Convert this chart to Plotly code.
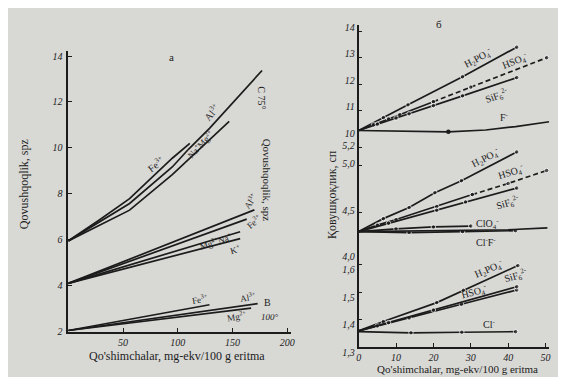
import plotly.graph_objects as go

W, H = 566, 377
INK = "#1c1c1c"
BG = "#d8d8d5"
SERIF = "Liberation Serif"

# ---------------- Panel a (left) ----------------
a_xticks = [50, 100, 150, 200]
a_yticks = [2, 4, 6, 8, 10, 12, 14]

# C, 75 deg
c_fe_x = [0, 28, 56, 95, 111]
c_fe_y = [5.95, 6.85, 7.79, 9.55, 10.2]
c_al_x = [0, 56, 95, 110, 129, 153, 177]
c_al_y = [5.95, 7.58, 9.17, 9.95, 10.85, 12.1, 13.37]
c_namg_x = [0, 56, 95, 116, 147]
c_namg_y = [5.95, 7.29, 8.84, 9.76, 11.15]
# A, 20 deg (middle group)
m_al_x = [0, 170]
m_al_y = [4.1, 7.3]
m_fe_x = [0, 163]
m_fe_y = [4.1, 6.9]
m_mgna_x = [0, 157]
m_mgna_y = [4.1, 6.35]
m_k_x = [0, 157]
m_k_y = [4.1, 6.05]
# B, 100 deg
b_fe_x = [0, 129]
b_fe_y = [2.05, 3.17]
b_al_x = [0, 173]
b_al_y = [2.05, 3.22]
b_mg_x = [0, 167]
b_mg_y = [2.05, 3.02]

# ---------------- Panel b (right) ----------------
r_xticks = [0, 10, 20, 30, 40, 50]
top_ticks = [10, 11, 12, 13, 14]
mid_ticks = [4.0, 4.5, 5.0, 5.2]
mid_ticktext = ["4,0", "4,5", "5,0", "5,2"]
bot_ticks = [1.3, 1.4, 1.5, 1.6]
bot_ticktext = ["1,3", "1,4", "1,5", "1,6"]

# B, 20 deg (top)
t_h2po4_x = [0, 6.6, 13.2, 27.8, 42.3]
t_h2po4_y = [10.25, 10.74, 11.22, 12.28, 13.4]
t_hso4_x = [0, 4, 8, 11, 20, 30, 50.3]
t_hso4_y = [10.25, 10.47, 10.69, 10.85, 11.34, 11.89, 13.0]
t_sif6_x = [0, 5, 10, 13.5, 20, 27.8, 42.3]
t_sif6_y = [10.25, 10.49, 10.72, 10.88, 11.19, 11.56, 12.25]
t_f_x = [0, 12, 24, 34, 42, 51]
t_f_y = [10.25, 10.22, 10.2, 10.27, 10.4, 10.58]
# A, 20 deg (middle)
m2_h2po4_x = [0, 6.6, 13.5, 20.4, 27.5, 42.3]
m2_h2po4_y = [4.29, 4.43, 4.55, 4.71, 4.84, 5.15]
m2_hso4_x = [0, 5, 10, 20.9, 30.4, 40, 50.3]
m2_hso4_y = [4.29, 4.36, 4.42, 4.56, 4.69, 4.81, 4.95]
m2_sif6_x = [0, 8, 20.9, 28.6, 42.3]
m2_sif6_y = [4.29, 4.38, 4.52, 4.61, 4.76]
m2_clo4_x = [0, 10, 20, 30]
m2_clo4_y = [4.29, 4.32, 4.34, 4.35]
m2_cl_x = [0, 13.5, 27.8, 42]
m2_cl_y = [4.29, 4.28, 4.29, 4.3]
m2_f_x = [0, 20, 40, 50.5]
m2_f_y = [4.29, 4.3, 4.31, 4.33]
# A, 75 deg (bottom)
b2_h2po4_x = [0, 6.6, 20.9, 28, 42.6]
b2_h2po4_y = [1.359, 1.393, 1.462, 1.507, 1.597]
b2_hso4_x = [0, 5, 13.5, 27.5, 42.3]
b2_hso4_y = [1.359, 1.377, 1.406, 1.456, 1.508]
b2_sif6_x = [0, 8, 20, 42.3]
b2_sif6_y = [1.359, 1.389, 1.435, 1.52]
b2_cl_x = [0, 14, 27.6, 42]
b2_cl_y = [1.356, 1.352, 1.354, 1.356]


def px(x):
    return x / W


def py(y):
    return 1 - y / H


fig = go.Figure()


def line(xs, ys, xa="x", ya="y", dash="solid", markers=False, width=1.7):
    sizes = [0 if v == 0 else 4.5 for v in xs]
    fig.add_trace(go.Scatter(
        x=xs, y=ys, xaxis=xa, yaxis=ya,
        mode="lines+markers" if markers else "lines",
        line=dict(color=INK, width=width, dash=dash),
        marker=dict(size=sizes, color=INK),
        showlegend=False, hoverinfo="skip"))


# left panel lines
for xs, ys in [(c_fe_x, c_fe_y), (c_al_x, c_al_y), (c_namg_x, c_namg_y),
               (m_al_x, m_al_y), (m_fe_x, m_fe_y), (m_mgna_x, m_mgna_y), (m_k_x, m_k_y),
               (b_fe_x, b_fe_y), (b_al_x, b_al_y), (b_mg_x, b_mg_y)]:
    line(xs, ys)


def split_dash(xs, ys, ya, cut):
    i = xs.index(cut)
    line(xs[:i + 1], ys[:i + 1], "x2", ya, markers=True)
    line(xs[i:], ys[i:], "x2", ya, dash="5px,3px", markers=True)


# right top
line(t_h2po4_x, t_h2po4_y, "x2", "y2", markers=True)
split_dash(t_hso4_x, t_hso4_y, "y2", 20)
line(t_sif6_x, t_sif6_y, "x2", "y2", markers=True)
line(t_f_x, t_f_y, "x2", "y2")
fig.add_trace(go.Scatter(x=[t_f_x[2]], y=[t_f_y[2]], xaxis="x2", yaxis="y2", mode="markers",
                         marker=dict(size=4.5, color=INK), showlegend=False, hoverinfo="skip"))
# right middle
line(m2_h2po4_x, m2_h2po4_y, "x2", "y3", markers=True)
split_dash(m2_hso4_x, m2_hso4_y, "y3", 30.4)
line(m2_sif6_x, m2_sif6_y, "x2", "y3", markers=True)
line(m2_clo4_x, m2_clo4_y, "x2", "y3", markers=True)
line(m2_cl_x, m2_cl_y, "x2", "y3", markers=True)
line(m2_f_x, m2_f_y, "x2", "y3")
# right bottom
line(b2_h2po4_x, b2_h2po4_y, "x2", "y4", markers=True)
line(b2_hso4_x, b2_hso4_y, "x2", "y4", markers=True)
line(b2_sif6_x, b2_sif6_y, "x2", "y4", markers=True)
line(b2_cl_x, b2_cl_y, "x2", "y4", markers=True)

tickfont = dict(family=SERIF, size=10, color=INK, style="italic")
ax_common = dict(showline=True, linecolor=INK, linewidth=1.7, showgrid=False, zeroline=False,
                 ticks="inside", ticklen=4, tickcolor=INK, tickwidth=1.2, tickfont=tickfont,
                 fixedrange=True)

fig.update_layout(
    width=W, height=H, paper_bgcolor=BG, plot_bgcolor="rgba(0,0,0,0)",
    margin=dict(l=0, r=0, t=0, b=0), showlegend=False,
    xaxis=dict(domain=[px(58), px(283)], range=[0, 203], anchor="y",
               tickvals=a_xticks, ticklabelstandoff=1, **ax_common),
    yaxis=dict(domain=[py(333), py(42)], range=[2, 14.2], anchor="x",
               tickvals=a_yticks, ticklabelstandoff=2, **ax_common),
    xaxis2=dict(domain=[px(352), px(545)], range=[0, 51], anchor="y4",
                tickvals=r_xticks, ticklabelstandoff=0, **ax_common),
    yaxis2=dict(domain=[py(131), py(15)], range=[10, 14.22], anchor="x2",
                tickvals=top_ticks, ticklabelshift=-4, **ax_common),
    yaxis3=dict(domain=[py(257), py(131)], range=[4.0, 5.31], anchor="x2",
                tickvals=mid_ticks, ticktext=mid_ticktext, ticklabelshift=-2, **ax_common),
    yaxis4=dict(domain=[py(349), py(257)], range=[1.3, 1.623], anchor="x2",
                tickvals=bot_ticks, ticktext=bot_ticktext, ticklabelshift=5, **ax_common),
)

ann = []


def lab(text, x, y, xref="x", yref="y", angle=0, size=10):
    ann.append(dict(text=text, x=x, y=y, xref=xref, yref=yref, showarrow=False, textangle=angle,
                    font=dict(family=SERIF, size=size, color=INK),
                    xanchor="center", yanchor="middle"))


# left labels
lab("Fe<sup>3+</sup>", 80, 9.3, angle=-37)
lab("Al<sup>3+</sup>", 131, 11.55, angle=-50)
lab("Na<sup>+</sup>Mg<sup>2+</sup>", 121, 10.15, angle=-47, size=9)
lab("C 75°", 177, 12.2, angle=90, size=10)
lab("Al<sup>3+</sup>", 166, 7.7, angle=-55, size=9)
lab("Fe<sup>3+</sup>", 170, 6.8, angle=-40, size=9)
lab("Mg<sup>2+</sup>Na<sup>+</sup>", 135, 5.95, angle=-18, size=9)
lab("K<sup>+</sup>", 153, 5.6, angle=-15, size=9)
lab("Fe<sup>3+</sup>", 120, 3.4, angle=-10, size=9)
lab("Al<sup>3+</sup>", 164, 3.5, angle=-10, size=9)
lab("Mg<sup>2+</sup>", 154, 2.68, angle=-10, size=9)
lab("B", 182, 3.28, size=10)
lab("<i>100°</i>", 184, 2.65, size=9)

# right top labels
lab("H<sub>2</sub>PO<sub>4</sub><sup>-</sup>", 32, 13.0, "x2", "y2", angle=-28)
lab("HSO<sub>4</sub><sup>-</sup>", 42, 12.87, "x2", "y2", angle=-22)
lab("SiF<sub>6</sub><sup>2-</sup>", 37, 11.55, "x2", "y2", angle=-19)
lab("F<sup>-</sup>", 39, 10.75, "x2", "y2")
lab("B", 55, 13.1, "x2", "y2")
lab("20°", 55, 12.55, "x2", "y2", size=9)
# right middle labels
lab("H<sub>2</sub>PO<sub>4</sub><sup>-</sup>", 34, 5.08, "x2", "y3", angle=-27)
lab("HSO<sub>4</sub><sup>-</sup>", 41, 4.93, "x2", "y3", angle=-18)
lab("SiF<sub>6</sub><sup>2-</sup>", 40, 4.6, "x2", "y3", angle=-16)
lab("ClO<sub>4</sub><sup>-</sup>", 34.5, 4.37, "x2", "y3")
lab("Cl<sup>-</sup>F<sup>-</sup>", 34, 4.18, "x2", "y3")
lab("A", 54.5, 4.97, "x2", "y3")
lab("20°", 54.8, 4.83, "x2", "y3", size=9)
# right bottom labels
lab("H<sub>2</sub>PO<sub>4</sub><sup>-</sup>", 35, 1.585, "x2", "y4", angle=-23)
lab("HSO<sub>4</sub><sup>-</sup>", 31, 1.502, "x2", "y4", angle=-15)
lab("SiF<sub>6</sub><sup>2-</sup>", 42, 1.56, "x2", "y4", angle=-16)
lab("Cl<sup>-</sup>", 35, 1.385, "x2", "y4")
lab("A", 54.5, 1.575, "x2", "y4")
lab("75°", 54.8, 1.525, "x2", "y4", size=9)

# panel letters and titles
lab("a", px(163), py(48), "paper", "paper", size=11)
lab("б", px(433), py(14), "paper", "paper", size=11)
lab("Qovushqoqlik, spz", px(13), py(180), "paper", "paper", angle=-90, size=12)
lab("Qovushqoqlik, spz", px(259), py(176), "paper", "paper", angle=90, size=11)
lab("Қовушқоқлик, сп", px(325), py(190), "paper", "paper", angle=-90, size=12)
lab("Qo'shimchalar, mg-ekv/100 g eritma", px(168), py(358), "paper", "paper", size=12)
lab("Qo'shimchalar, mg-ekv/100 g eritma", px(452), py(371.5), "paper", "paper", size=11)

fig.update_layout(annotations=ann)
fig.write_html("out.html")
